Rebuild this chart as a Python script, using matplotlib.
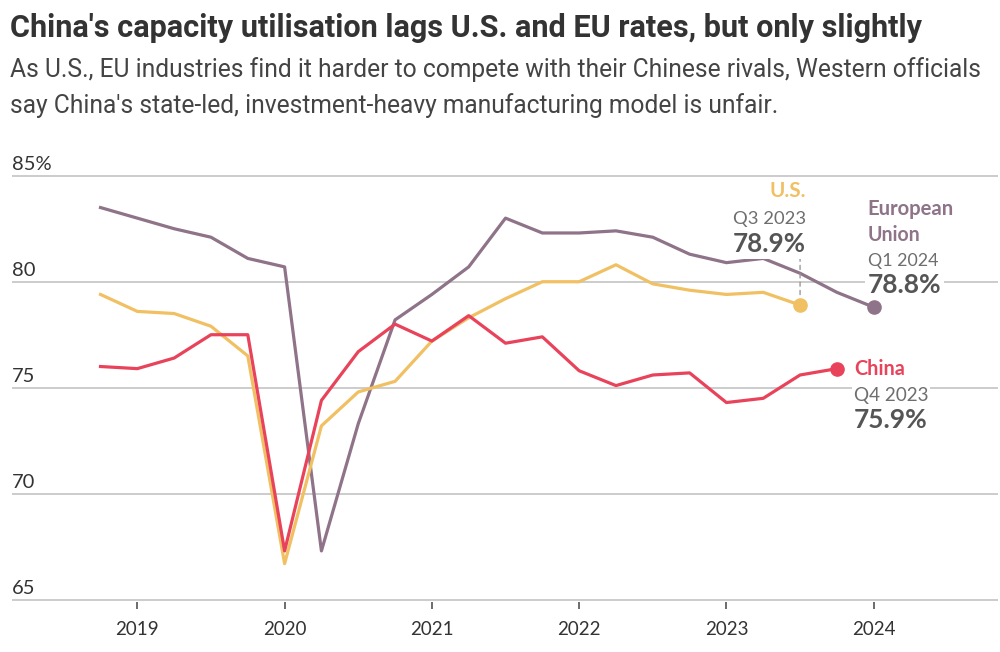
import matplotlib.pyplot as plt

# Quarterly capacity utilisation (%)
quarters = [2018.75, 2019.0, 2019.25, 2019.5, 2019.75, 2020.0, 2020.25, 2020.5, 2020.75,
            2021.0, 2021.25, 2021.5, 2021.75, 2022.0, 2022.25, 2022.5, 2022.75,
            2023.0, 2023.25, 2023.5, 2023.75, 2024.0]
eu = [83.5, 83.0, 82.5, 82.1, 81.1, 80.7, 67.3, 73.3, 78.2, 79.4, 80.7, 83.0, 82.3,
      82.3, 82.4, 82.1, 81.3, 80.9, 81.1, 80.4, 79.5, 78.8]
us = [79.4, 78.6, 78.5, 77.9, 76.5, 66.7, 73.2, 74.8, 75.3, 77.2, 78.3, 79.2, 80.0,
      80.0, 80.8, 79.9, 79.6, 79.4, 79.5, 78.9]
china = [76.0, 75.9, 76.4, 77.5, 77.5, 67.3, 74.4, 76.7, 78.0, 77.2, 78.4, 77.1, 77.4,
         75.8, 75.1, 75.6, 75.7, 74.3, 74.5, 75.6, 75.9]

year_ticks = [2019, 2020, 2021, 2022, 2023, 2024]
y_ticks = [65, 70, 75, 80, 85]
y_labels = ['65', '70', '75', '80', '85%']

EU_COL = '#8e7389'
US_COL = '#f0c063'
CN_COL = '#e8435a'
GREY = '#6e6e6e'
VAL = '#555555'

HEAD = ['Roboto', 'DejaVu Sans']
BODY = ['Lato', 'DejaVu Sans']

fig = plt.figure(figsize=(10, 6.52), dpi=100)
ax = fig.add_axes([0.012, 0.0770, 0.986, 0.6567])
renderer = fig.canvas.get_renderer()


def fit(t, width):
    # scale the font so the text spans the given width in pixels
    w = t.get_window_extent(renderer).width
    t.set_fontsize(t.get_fontsize() * width / w)


ax.plot(quarters[:len(eu)], eu, color=EU_COL, lw=2.3, zorder=3)
ax.plot(quarters[:len(us)], us, color=US_COL, lw=2.3, zorder=3)
ax.plot(quarters[:len(china)], china, color=CN_COL, lw=2.3, zorder=4)

# end dots
for xs, ys, c in [(quarters[:len(eu)], eu, EU_COL), (quarters[:len(us)], us, US_COL),
                  (quarters[:len(china)], china, CN_COL)]:
    ax.plot(xs[-1], ys[-1], 'o', color=c, ms=9.5, zorder=5, clip_on=False)

ax.set_xlim(2018.149, 2024.844)
ax.set_ylim(64.9, 85.1)
ax.set_yticks(y_ticks)
ax.yaxis.grid(True, color='#cccccc', lw=1.4)
ax.set_axisbelow(True)
ax.tick_params(axis='y', left=False, labelleft=False)
for s in ax.spines.values():
    s.set_visible(False)

ax.set_xticks(year_ticks)
ax.set_xticklabels([str(y) for y in year_ticks], family=BODY, fontsize=13.5, color='#333333')
ax.tick_params(axis='x', length=5, width=1.1, color='#444444', pad=9)

for v, lab in zip(y_ticks, y_labels):
    ax.annotate(lab, xy=(0, v), xycoords=ax.get_yaxis_transform(), xytext=(0, 6),
                textcoords='offset pixels', va='baseline', ha='left',
                family=BODY, fontsize=14.5, color='#333333')


# labels at the ends of lines
def label(x, y, text, dx, dy, ha, color, weight, width):
    t = ax.annotate(text, xy=(x, y), xytext=(dx, dy), textcoords='offset pixels',
                    ha=ha, va='baseline', color=color, fontsize=14, fontweight=weight,
                    family=BODY, zorder=6,
                    bbox=dict(boxstyle='square,pad=0.1', fc='white', ec='none'))
    fit(t, width)


ux, uy = quarters[len(us) - 1], us[-1]
label(ux, uy, 'U.S.', 6, 108, 'right', US_COL, 'bold', 37)
label(ux, uy, 'Q3 2023', 6, 81, 'right', GREY, 'normal', 73)
label(ux, uy, f'{us[-1]}%', 6, 53, 'right', VAL, 'bold', 73)
ax.annotate('', xy=(ux, uy), xytext=(0, 48), textcoords='offset pixels',
            arrowprops=dict(arrowstyle='-', ls=(0, (3, 3)), color='#999999', lw=1,
                            shrinkA=0, shrinkB=6))

ex, ey = quarters[len(eu) - 1], eu[-1]
label(ex, ey, 'European', -6, 92, 'left', EU_COL, 'bold', 87)
label(ex, ey, 'Union', -6, 66.5, 'left', EU_COL, 'bold', 53)
label(ex, ey, 'Q1 2024', -6, 41, 'left', GREY, 'normal', 70)
label(ex, ey, f'{eu[-1]}%', -6, 14, 'left', VAL, 'bold', 74)

cx, cy = quarters[len(china) - 1], china[-1]
label(cx, cy, 'China', 17, -6, 'left', CN_COL, 'bold', 51)
label(cx, cy, 'Q4 2023', 17, -32, 'left', GREY, 'normal', 75)
label(cx, cy, f'{china[-1]}%', 17, -59, 'left', VAL, 'bold', 74)

title = fig.text(0.01, 1 - 37 / 652, "China's capacity utilisation lags U.S. and EU rates, but only slightly",
                 family=HEAD, fontweight='bold', fontsize=17, color='#333333', va='baseline')
fit(title, 911)
sub1 = fig.text(0.01, 1 - 77 / 652, "As U.S., EU industries find it harder to compete with their Chinese rivals, Western officials",
                family=HEAD, fontsize=15, color='#444444', va='baseline')
fit(sub1, 975)
sub2 = fig.text(0.01, 1 - 113 / 652, "say China's state-led, investment-heavy manufacturing model is unfair.",
                family=HEAD, fontsize=sub1.get_fontsize(), color='#444444', va='baseline')

fig.savefig('out.png', dpi=100)
